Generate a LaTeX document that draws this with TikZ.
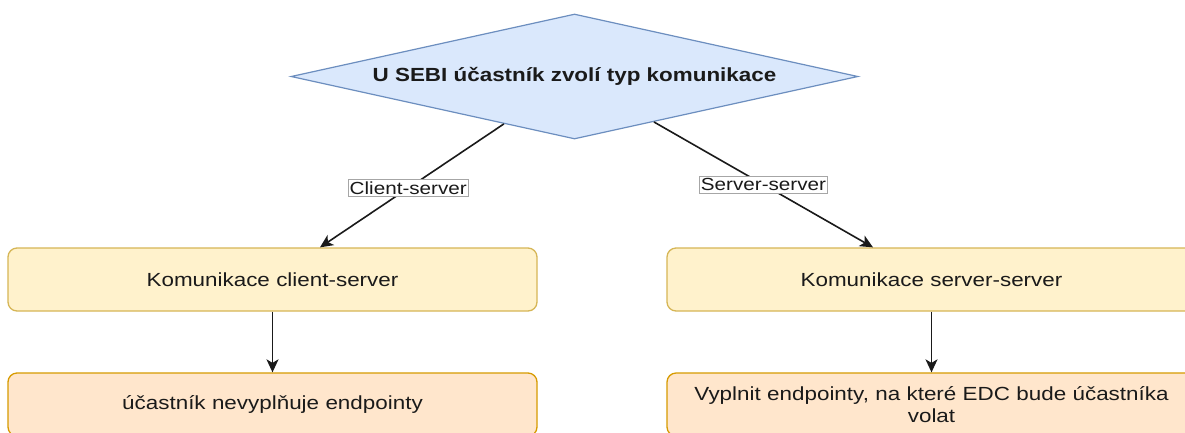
\documentclass[tikz,border=0pt]{standalone}
\usepackage{fontspec}
\setmainfont{Liberation Sans}[FakeStretch=1.18]
\usetikzlibrary{shapes.geometric,arrows.meta}
\definecolor{decfill}{HTML}{DAE8FC}
\definecolor{decdraw}{HTML}{6C8EBF}
\definecolor{yfill}{HTML}{FFF2CC}
\definecolor{ydraw}{HTML}{D6B656}
\definecolor{ofill}{HTML}{FFE6CC}
\definecolor{odraw}{HTML}{D79B00}
\definecolor{txt}{HTML}{1A1A1A}
\definecolor{lblframe}{HTML}{A6A6A6}
\tikzset{
  decision/.style={diamond, draw=decdraw, fill=decfill, line width=1.2pt,
    minimum width=567, minimum height=125, shape aspect=4.5, inner sep=0pt,
    text=txt, font=\bfseries\fontsize{19}{23}\selectfont},
  ybox/.style={rectangle, rounded corners=9, draw=ydraw, fill=yfill, line width=1.3pt,
    minimum width=529, minimum height=63, text=txt, align=center, text width=500,
    font=\fontsize{19}{22}\selectfont},
  obox/.style={ybox, draw=odraw, fill=ofill},
  conn/.style={draw=txt, line width=1.6pt, -{Stealth[length=13,width=12,inset=3.5]}},
  lbl/.style={fill=white, draw=lblframe, line width=0.6pt, inner xsep=1.5pt, inner ysep=2pt,
    text=txt, font=\fontsize{17.5}{20}\selectfont}
}
\begin{document}
\begin{tikzpicture}[x=1pt,y=-1pt]
\useasboundingbox (0,0) rectangle (1185,432);
\clip (0,0) rectangle (1185,432);
\fill[white] (0,0) rectangle (1185,432);
\node[decision] (d) at (574.5,76.5) {U SEBI účastník zvolí typ komunikace};
\node[ybox] (b1) at (272.5,279.5) {Komunikace client-server};
\node[ybox] (b2) at (931.5,279.5) {Komunikace server-server};
\node[obox] (b3) at (272.5,404.5) {účastník nevyplňuje endpointy};
\node[obox] (b4) at (931.5,404.5) {Vyplnit endpointy, na které EDC bude účastníka\\volat};
\coordinate (e1) at ([xshift=47.5]b1.north);
\coordinate (e2) at ([xshift=-58.5]b2.north);
\draw[conn] (d) -- node[lbl, pos=0.52] {Client-server} (e1);
\draw[conn] (d) -- node[lbl, pos=0.5] {Server-server} (e2);
\draw[conn] (b1) -- (b3);
\draw[conn] (b2) -- (b4);
\end{tikzpicture}
\end{document}
